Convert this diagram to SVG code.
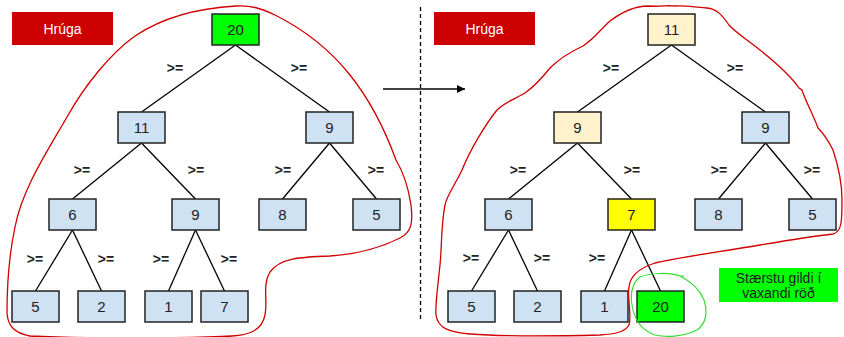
<svg xmlns="http://www.w3.org/2000/svg" width="844" height="337" viewBox="0 0 844 337">
  <style>
    .node rect { stroke: #222; stroke-width: 1.5; }
    .blue { fill: #cfe2f3; }
    .cream { fill: #fff2cc; }
    .yellow { fill: #ffff00; }
    .green { fill: #00ff00; }
    .node text { font-family: "Liberation Sans", Arial, sans-serif; font-size: 15px; fill: #222; text-anchor: middle; }
    .edge { stroke: #000; stroke-width: 1.3; fill: none; }
    .ge { font-family: "Liberation Sans", Arial, sans-serif; font-size: 14px; font-weight: bold; fill: #222; text-anchor: middle; }
    .tag rect { fill: #cc0000; }
    .tag text { font-family: "Liberation Sans", Arial, sans-serif; font-size: 14px; fill: #fff; text-anchor: middle; }
    .lasso { fill: none; stroke: #d00000; stroke-width: 1.3; }
    .note-text { font-family: "Liberation Sans", Arial, sans-serif; font-size: 14px; fill: #222; text-anchor: middle; }
  </style>
  <defs>
    <marker id="arrowhead" viewBox="0 0 10 10" refX="10" refY="5" markerWidth="8" markerHeight="8" markerUnits="userSpaceOnUse" orient="auto">
      <path d="M0,0 L10,5 L0,10 z" fill="#000"/>
    </marker>
  </defs>

  <rect width="844" height="337" fill="#fff"/>

  <!-- labels -->
  <g id="tag-left" class="tag"><rect x="12" y="12" width="101" height="33"/><text x="62.5" y="34">Hrúga</text></g>
  <g id="tag-right" class="tag"><rect x="434" y="12" width="101" height="33"/><text x="484.5" y="34">Hrúga</text></g>

  <!-- divider -->
  <line x1="420.5" y1="7" x2="420.5" y2="322" stroke="#000" stroke-width="1.3" stroke-dasharray="4,3"/>

  <g id="connectors">
    <line class="edge" x1="383" y1="89" x2="465" y2="89" marker-end="url(#arrowhead)"/>
    <!-- left heap -->
    <line class="edge" x1="235.5" y1="45" x2="141.5" y2="112"/>
    <line class="edge" x1="235.5" y1="45" x2="329.5" y2="112"/>
    <line class="edge" x1="141.5" y1="143" x2="72.5" y2="199"/>
    <line class="edge" x1="141.5" y1="143" x2="195.5" y2="199"/>
    <line class="edge" x1="329.5" y1="143" x2="282.5" y2="199"/>
    <line class="edge" x1="329.5" y1="143" x2="376.5" y2="199"/>
    <line class="edge" x1="72.5" y1="230" x2="35.5" y2="291"/>
    <line class="edge" x1="72.5" y1="230" x2="101.5" y2="291"/>
    <line class="edge" x1="195.5" y1="230" x2="168.5" y2="291"/>
    <line class="edge" x1="195.5" y1="230" x2="224.5" y2="291"/>
    <!-- right heap -->
    <line class="edge" x1="671.5" y1="45" x2="577.5" y2="112"/>
    <line class="edge" x1="671.5" y1="45" x2="765.5" y2="112"/>
    <line class="edge" x1="577.5" y1="143" x2="508.5" y2="199"/>
    <line class="edge" x1="577.5" y1="143" x2="631.5" y2="199"/>
    <line class="edge" x1="765.5" y1="143" x2="718.5" y2="199"/>
    <line class="edge" x1="765.5" y1="143" x2="812.5" y2="199"/>
    <line class="edge" x1="508.5" y1="230" x2="471.5" y2="291"/>
    <line class="edge" x1="508.5" y1="230" x2="537.5" y2="291"/>
    <line class="edge" x1="631.5" y1="230" x2="604.5" y2="291"/>
    <line class="edge" x1="631.5" y1="230" x2="660.5" y2="291"/>
  </g>

  <!-- ">=" edge labels -->
  <g id="edge-labels">
    <text class="ge" x="175" y="73">&gt;=</text>
    <text class="ge" x="299" y="73">&gt;=</text>
    <text class="ge" x="82" y="175">&gt;=</text>
    <text class="ge" x="196" y="175">&gt;=</text>
    <text class="ge" x="283" y="175">&gt;=</text>
    <text class="ge" x="376" y="175">&gt;=</text>
    <text class="ge" x="35" y="264">&gt;=</text>
    <text class="ge" x="106" y="264">&gt;=</text>
    <text class="ge" x="161" y="264">&gt;=</text>
    <text class="ge" x="229" y="264">&gt;=</text>

    <text class="ge" x="611" y="73">&gt;=</text>
    <text class="ge" x="735" y="73">&gt;=</text>
    <text class="ge" x="518" y="175">&gt;=</text>
    <text class="ge" x="632" y="175">&gt;=</text>
    <text class="ge" x="719" y="175">&gt;=</text>
    <text class="ge" x="812" y="175">&gt;=</text>
    <text class="ge" x="471" y="263">&gt;=</text>
    <text class="ge" x="542" y="263">&gt;=</text>
    <text class="ge" x="597" y="263">&gt;=</text>
  </g>

  <!-- left heap nodes -->
  <g id="L-20" class="node"><rect class="green" x="212" y="14" width="47" height="31"/><text x="235.5" y="35">20</text></g>
  <g id="L-11" class="node"><rect class="blue" x="118" y="112" width="47" height="31"/><text x="141.5" y="133">11</text></g>
  <g id="L-9a" class="node"><rect class="blue" x="306" y="112" width="47" height="31"/><text x="329.5" y="133">9</text></g>
  <g id="L-6" class="node"><rect class="blue" x="49" y="199" width="47" height="31"/><text x="72.5" y="220">6</text></g>
  <g id="L-9b" class="node"><rect class="blue" x="172" y="199" width="47" height="31"/><text x="195.5" y="220">9</text></g>
  <g id="L-8" class="node"><rect class="blue" x="259" y="199" width="47" height="31"/><text x="282.5" y="220">8</text></g>
  <g id="L-5a" class="node"><rect class="blue" x="353" y="199" width="47" height="31"/><text x="376.5" y="220">5</text></g>
  <g id="L-5b" class="node"><rect class="blue" x="12" y="291" width="47" height="31"/><text x="35.5" y="312">5</text></g>
  <g id="L-2" class="node"><rect class="blue" x="78" y="291" width="47" height="31"/><text x="101.5" y="312">2</text></g>
  <g id="L-1" class="node"><rect class="blue" x="145" y="291" width="47" height="31"/><text x="168.5" y="312">1</text></g>
  <g id="L-7" class="node"><rect class="blue" x="201" y="291" width="47" height="31"/><text x="224.5" y="312">7</text></g>

  <!-- right heap nodes -->
  <g id="R-11" class="node"><rect class="cream" x="648" y="14" width="47" height="31"/><text x="671.5" y="35">11</text></g>
  <g id="R-9a" class="node"><rect class="cream" x="554" y="112" width="47" height="31"/><text x="577.5" y="133">9</text></g>
  <g id="R-9b" class="node"><rect class="blue" x="742" y="112" width="47" height="31"/><text x="765.5" y="133">9</text></g>
  <g id="R-6" class="node"><rect class="blue" x="485" y="199" width="47" height="31"/><text x="508.5" y="220">6</text></g>
  <g id="R-7" class="node"><rect class="yellow" x="608" y="199" width="47" height="31"/><text x="631.5" y="220">7</text></g>
  <g id="R-8" class="node"><rect class="blue" x="695" y="199" width="47" height="31"/><text x="718.5" y="220">8</text></g>
  <g id="R-5a" class="node"><rect class="blue" x="789" y="199" width="47" height="31"/><text x="812.5" y="220">5</text></g>
  <g id="R-5b" class="node"><rect class="blue" x="448" y="291" width="47" height="31"/><text x="471.5" y="312">5</text></g>
  <g id="R-2" class="node"><rect class="blue" x="514" y="291" width="47" height="31"/><text x="537.5" y="312">2</text></g>
  <g id="R-1" class="node"><rect class="blue" x="581" y="291" width="47" height="31"/><text x="604.5" y="312">1</text></g>
  <g id="R-20" class="node"><rect class="green" x="637" y="291" width="47" height="31"/><text x="660.5" y="312">20</text></g>

  <!-- sorted-values note -->
  <g id="note">
    <rect x="719" y="268" width="119" height="34" fill="#00ff00"/>
    <text class="note-text" x="778.5" y="283">Stærstu gildi í</text>
    <text class="note-text" x="778.5" y="298">vaxandi röð</text>
  </g>

  <!-- freehand outlines -->
  <path class="lasso" d="M236,6 C200,8 165,16 135,36 C110,54 85,85 67,117 C45,155 22,190 15,227 C8,260 7,290 7,313 C8,326 14,333 30,336 C90,339 200,338 232,336 C250,335 262,330 265,315 C268,300 262,285 270,272 C280,258 300,257 330,256 C360,254 380,248 400,238 C412,232 413,222 411,205 C408,185 402,170 396,160 C385,130 370,100 350,75 C330,50 305,30 275,15 C260,8 250,5 236,6 Z"/>
  <path class="lasso" d="M673,6 C670,5 660,7 648,6 C635,6 622,12 610,21 C600,30 595,38 583,46 C570,52 558,60 550,68 C542,78 535,86 525,93 C515,99 505,102 497,110 C485,125 470,150 462,170 C455,185 447,195 445,205 C441,225 442,245 440,265 C438,285 435,305 436,315 C438,328 448,332 470,334 C510,337 560,336 600,335 C615,334 625,332 629,325 C632,315 627,298 629,287 C630,275 640,268 655,263 C680,257 720,252 760,245 C790,240 815,236 833,234 C842,232 842,220 842,200 C842,180 838,165 833,150 C828,140 822,132 818,128 C812,112 805,100 802,90 L799,88 C790,75 775,62 760,50 C745,38 735,32 729,25 C722,15 717,9 707,8 C695,7 685,5 673,6 Z"/>
  <path d="M680,276 C670,272 650,273 640,277 C632,283 630,295 632,305 C634,318 640,330 655,335 C668,338 685,336 697,330 C706,324 708,312 704,300 C700,290 692,282 680,276 L684,276" fill="none" stroke="#33dd33" stroke-width="1.2"/>
</svg>
